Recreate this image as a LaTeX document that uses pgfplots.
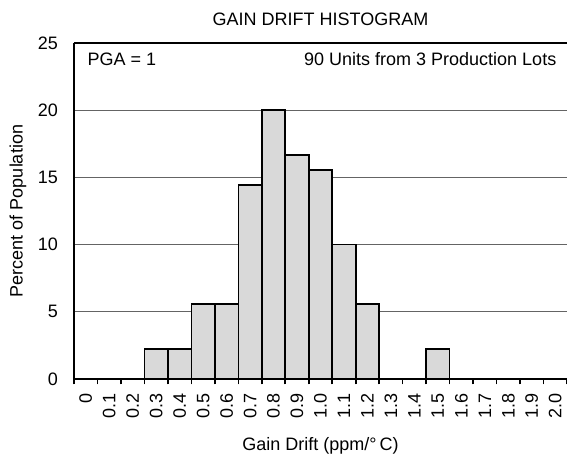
\documentclass[border=0pt]{standalone}
\usepackage{fontspec}
\setmainfont{Liberation Sans}
\usepackage{pgfplots}
\pgfplotsset{compat=1.18}

\definecolor{barfill}{RGB}{217,217,217}
\definecolor{gridgray}{RGB}{100,100,100}

\begin{document}
\begin{tikzpicture}[font=\fontsize{13.5pt}{16pt}\selectfont]
\begin{axis}[
    at={(0,0)}, anchor=south west,
    scale only axis, width=369.75pt, height=252pt,
    xmin=0, xmax=21, ymin=0, ymax=25,
    axis lines*=left,
    axis line style={line width=1.6pt},
    /pgf/number format/assume math mode=true,
    xtick={0,...,21},
    x tick label as interval,
    xticklabels={0,0.1,0.2,0.3,0.4,0.5,0.6,0.7,0.8,0.9,1.0,1.1,1.2,1.3,1.4,1.5,1.6,1.7,1.8,1.9,2.0},
    xticklabel style={yshift=-3pt, rotate=90, anchor=east},
    yticklabel style={xshift=-4.5pt},
    xtick style={black, line width=1.2pt},
    tick align=outside,
    major tick length=4pt,
    ytick={0,5,...,25},
    ytick style={draw=none},
    ymajorgrids,
    grid style={gridgray, line width=0.7pt},
    title={GAIN DRIFT HISTOGRAM},
    title style={at={(axis description cs:0.5,1)}, anchor=base, yshift=6.75pt},
    xlabel={Gain Drift (ppm/°\,C)},
    every axis x label/.style={at={(axis description cs:0.5,0)}, anchor=center, yshift=-50pt},
    ylabel={Percent of Population},
    every axis y label/.style={at={(axis description cs:0,0.5)}, xshift=-42pt, rotate=90, anchor=center},
]
\addplot[ybar, bar width=1, fill=barfill, draw=black, line width=1.2pt] coordinates {
    (3.5,2.22) (4.5,2.22) (5.5,5.56) (6.5,5.56) (7.5,14.44) (8.5,20.0)
    (9.5,16.67) (10.5,15.56) (11.5,10.0) (12.5,5.56) (15.5,2.22)
};
\draw[line width=1.6pt] (rel axis cs:0,1) -- (rel axis cs:1,1);
\node[anchor=base west, xshift=6.75pt, yshift=-17.25pt] at (rel axis cs:0,1) {PGA = 1};
\node[anchor=base east, xshift=-4.5pt, yshift=-17.25pt] at (rel axis cs:1,1) {90 Units from 3 Production Lots};
\end{axis}
\pgfresetboundingbox
\path[use as bounding box] (-55.5pt,-57.75pt) rectangle (369.75pt,284.25pt);
\end{tikzpicture}
\end{document}
